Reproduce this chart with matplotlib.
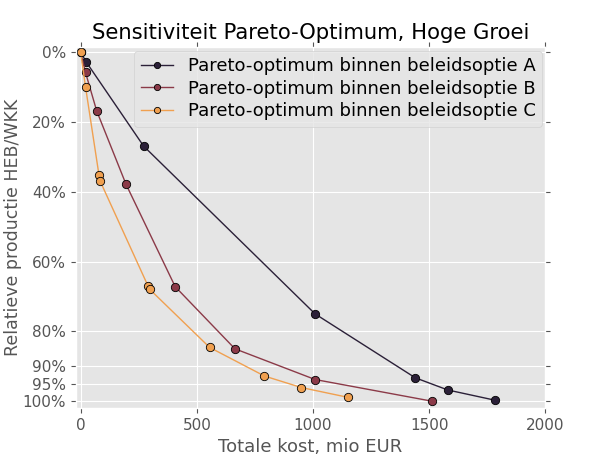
import matplotlib
matplotlib.use("Agg")
import matplotlib.pyplot as plt
from matplotlib.ticker import FuncFormatter

plt.style.use("ggplot")

# kosten (mio EUR) en relatieve productie per beleidsoptie
kost_A = [0, 24, 271, 1009, 1440, 1580, 1781]
prod_A = [0.0, 0.028, 0.269, 0.750, 0.933, 0.968, 0.997]

kost_B = [0, 21, 69, 195, 407, 664, 1009, 1511]
prod_B = [0.0, 0.058, 0.168, 0.378, 0.672, 0.850, 0.938, 1.0]

kost_C = [0, 21, 79, 83, 290, 298, 555, 791, 950, 1150]
prod_C = [0.0, 0.099, 0.352, 0.368, 0.670, 0.680, 0.846, 0.928, 0.961, 0.989]

labels = ["Pareto-optimum binnen beleidsoptie A",
          "Pareto-optimum binnen beleidsoptie B",
          "Pareto-optimum binnen beleidsoptie C"]
colors = ["#2b2038", "#8b3a48", "#f0a050"]

yticks = [0, 0.2, 0.4, 0.6, 0.8, 0.9, 0.95, 1.0]

fig, ax = plt.subplots(figsize=(6.06, 4.55), dpi=100)
fig.subplots_adjust(left=0.125, right=0.9, bottom=0.103, top=0.896)

for x, y, lab, c in zip([kost_A, kost_B, kost_C], [prod_A, prod_B, prod_C], labels, colors):
    ax.plot(x, y, color=c, linewidth=1, marker='o', markersize=6,
            markerfacecolor=c, markeredgecolor='black', markeredgewidth=0.6, label=lab)

ax.set_xlim(-21, 2000)
ax.set_ylim(1.02, -0.014)
ax.set_xticks([0, 500, 1000, 1500, 2000])
ax.set_yticks(yticks)
ax.yaxis.set_major_formatter(FuncFormatter(lambda v, p: "%d%%" % round(v * 100)))
ax.tick_params(top=True, right=True, labelsize=11, colors='#555555')

ax.set_title("Sensitiviteit Pareto-Optimum, Hoge Groei", fontsize=15.2, color='black')
ax.set_xlabel("Totale kost, mio EUR", fontsize=13, color='#555555')
ax.set_ylabel("Relatieve productie HEB/WKK", fontsize=12.5, color='#555555')
ax.yaxis.set_label_coords(-0.115, 0.5)

ax.legend(loc='upper right', fontsize=13, handlelength=1.8, markerscale=0.75,
          borderpad=0.35, labelspacing=0.25, borderaxespad=0.2)

plt.savefig("out.png", dpi=100)
